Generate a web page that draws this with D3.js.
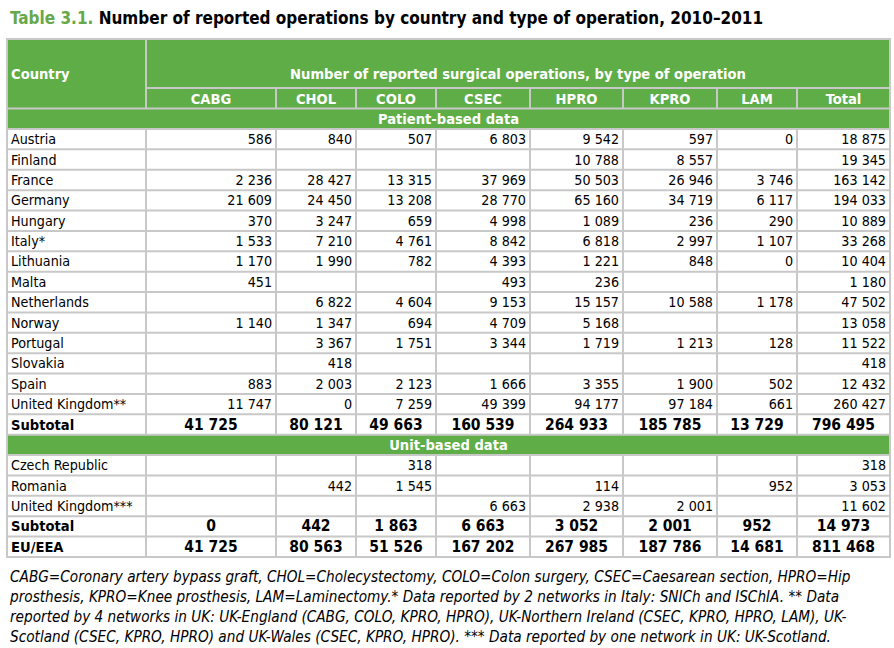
<!DOCTYPE html>
<html><head><meta charset="utf-8">
<script src="https://cdn.jsdelivr.net/npm/d3@7"></script>
<style>body{margin:0;background:#fff}svg{display:block}</style>
</head><body>
<script>
// ---------- DATA ----------
const titleNum = "Table 3.1.";
const titleText = " Number of reported operations by country and type of operation, 2010\u20132011";
const countryHeader = "Country";
const groupHeader = "Number of reported surgical operations, by type of operation";
const columns = ["CABG","CHOL","COLO","CSEC","HPRO","KPRO","LAM","Total"];

const patientSection = "Patient-based data";
const patientCountries = ["Austria","Finland","France","Germany","Hungary","Italy*","Lithuania","Malta","Netherlands","Norway","Portugal","Slovakia","Spain","United Kingdom**"];
const patientValues = [
  [586, 840, 507, 6803, 9542, 597, 0, 18875],
  [null, null, null, null, 10788, 8557, null, 19345],
  [2236, 28427, 13315, 37969, 50503, 26946, 3746, 163142],
  [21609, 24450, 13208, 28770, 65160, 34719, 6117, 194033],
  [370, 3247, 659, 4998, 1089, 236, 290, 10889],
  [1533, 7210, 4761, 8842, 6818, 2997, 1107, 33268],
  [1170, 1990, 782, 4393, 1221, 848, 0, 10404],
  [451, null, null, 493, 236, null, null, 1180],
  [null, 6822, 4604, 9153, 15157, 10588, 1178, 47502],
  [1140, 1347, 694, 4709, 5168, null, null, 13058],
  [null, 3367, 1751, 3344, 1719, 1213, 128, 11522],
  [null, 418, null, null, null, null, null, 418],
  [883, 2003, 2123, 1666, 3355, 1900, 502, 12432],
  [11747, 0, 7259, 49399, 94177, 97184, 661, 260427]
];
const patientSubtotal = [41725, 80121, 49663, 160539, 264933, 185785, 13729, 796495];

const unitSection = "Unit-based data";
const unitCountries = ["Czech Republic","Romania","United Kingdom***"];
const unitValues = [
  [null, null, 318, null, null, null, null, 318],
  [null, 442, 1545, null, 114, null, 952, 3053],
  [null, null, null, 6663, 2938, 2001, null, 11602]
];
const unitSubtotal = [0, 442, 1863, 6663, 3052, 2001, 952, 14973];
const euLabel = "EU/EEA";
const euTotal = [41725, 80563, 51526, 167202, 267985, 187786, 14681, 811468];
const subtotalLabel = "Subtotal";

const footnoteLines = [
  "CABG=Coronary artery bypass graft, CHOL=Cholecystectomy, COLO=Colon surgery, CSEC=Caesarean section, HPRO=Hip",
  "prosthesis, KPRO=Knee prosthesis, LAM=Laminectomy.* Data reported by 2 networks in Italy: SNICh and ISChIA. ** Data",
  "reported by 4 networks in UK: UK-England (CABG, COLO, KPRO, HPRO), UK-Northern Ireland (CSEC, KPRO, HPRO, LAM), UK-",
  "Scotland (CSEC, KPRO, HPRO) and UK-Wales (CSEC, KPRO, HPRO). *** Data reported by one network in UK: UK-Scotland."
];

// ---------- LAYOUT ----------
const W = 894, H = 648;
const FONT = "'DejaVu Sans Condensed','DejaVu Sans',sans-serif";
const GREEN = "#5fad46", GRID = "#c8c8c8", TITLEGREEN = "#66a84a";
const colEdges = [7, 146, 276, 356, 436, 530, 623, 717, 797, 890];
const tableTop = 39, groupLineY = 88, headBottom = 108.6, tableBottom = 557;

const fmt = d3.formatLocale({decimal: ".", thousands: " ", grouping: [3], currency: ["", ""]}).format(",");

// build row list
const rows = [];
rows.push({type: "section", label: patientSection});
patientCountries.forEach((c, i) => rows.push({type: "data", label: c, values: patientValues[i]}));
rows.push({type: "total", label: subtotalLabel, values: patientSubtotal});
rows.push({type: "section", label: unitSection});
unitCountries.forEach((c, i) => rows.push({type: "data", label: c, values: unitValues[i]}));
rows.push({type: "total", label: subtotalLabel, values: unitSubtotal});
rows.push({type: "total", label: euLabel, values: euTotal});

const y = d3.scaleLinear().domain([0, rows.length]).range([headBottom, tableBottom]);
const x = d3.scaleOrdinal().domain(d3.range(colEdges.length)).range(colEdges);

const svg = d3.select("body").append("svg").attr("width", W).attr("height", H)
  .style("font-family", FONT);

// title
const title = svg.append("text").attr("x", 10).attr("y", 24)
  .style("font-size", "17px").style("font-weight", "bold");
title.append("tspan").attr("fill", TITLEGREEN).text(titleNum);
title.append("tspan").attr("fill", "#000").text(titleText);

// table background
svg.append("rect").attr("x", colEdges[0]).attr("y", tableTop)
  .attr("width", colEdges[9] - colEdges[0]).attr("height", headBottom - tableTop).attr("fill", GREEN);
rows.forEach((r, i) => {
  if (r.type === "section") {
    svg.append("rect").attr("x", colEdges[0]).attr("y", y(i))
      .attr("width", colEdges[9] - colEdges[0]).attr("height", y(i + 1) - y(i)).attr("fill", GREEN);
  }
});

// grid lines
const g = svg.append("g").attr("stroke", GRID).attr("stroke-width", 2).attr("fill", "none");
g.append("line").attr("x1", colEdges[1]).attr("x2", colEdges[9]).attr("y1", groupLineY).attr("y2", groupLineY);
g.append("line").attr("x1", colEdges[1]).attr("x2", colEdges[1]).attr("y1", tableTop).attr("y2", headBottom);
for (let c = 2; c < 9; c++) {
  g.append("line").attr("x1", colEdges[c]).attr("x2", colEdges[c]).attr("y1", groupLineY).attr("y2", headBottom);
}
for (let i = 0; i <= rows.length; i++) {
  g.append("line").attr("x1", colEdges[0]).attr("x2", colEdges[9]).attr("y1", y(i)).attr("y2", y(i));
}
rows.forEach((r, i) => {
  if (r.type !== "section") {
    for (let c = 1; c < 9; c++) {
      g.append("line").attr("x1", colEdges[c]).attr("x2", colEdges[c]).attr("y1", y(i)).attr("y2", y(i + 1));
    }
  }
});
g.append("rect").attr("x", colEdges[0]).attr("y", tableTop)
  .attr("width", colEdges[9] - colEdges[0]).attr("height", tableBottom - tableTop);

// header text
svg.append("text").attr("x", 11).attr("y", 79).attr("fill", "#fff")
  .style("font-size", "14.6px").style("font-weight", "bold").text(countryHeader);
svg.append("text").attr("x", (colEdges[1] + colEdges[9]) / 2).attr("y", 79).attr("fill", "#fff")
  .attr("text-anchor", "middle").style("font-size", "14.6px").style("font-weight", "bold").text(groupHeader);
svg.selectAll("text.colh").data(columns).join("text").attr("class", "colh")
  .attr("x", (d, i) => (x(i + 1) + x(i + 2)) / 2).attr("y", 103.5)
  .attr("text-anchor", "middle").attr("fill", "#fff")
  .style("font-size", "14.6px").style("font-weight", "bold").text(d => d);

// rows
rows.forEach((r, i) => {
  const cy = (y(i) + y(i + 1)) / 2 + 5;
  if (r.type === "section") {
    svg.append("text").attr("x", (colEdges[0] + colEdges[9]) / 2).attr("y", cy)
      .attr("text-anchor", "middle").attr("fill", "#fff")
      .style("font-size", "14.6px").style("font-weight", "bold").text(r.label);
    return;
  }
  const bold = r.type === "total";
  svg.append("text").attr("x", 11).attr("y", cy).attr("fill", "#000")
    .style("font-size", bold ? "14.6px" : "14.2px").style("font-weight", bold ? "bold" : "normal").text(r.label);
  r.values.forEach((v, c) => {
    if (v === null) return;
    const t = svg.append("text").attr("y", cy).attr("fill", "#000")
      .style("font-size", bold ? "15.5px" : "14.2px").style("font-weight", bold ? "bold" : "normal").text(fmt(v));
    if (bold) t.attr("x", (x(c + 1) + x(c + 2)) / 2).attr("text-anchor", "middle");
    else t.attr("x", x(c + 2) - 4).attr("text-anchor", "end");
  });
});

// footnotes
svg.selectAll("text.fn").data(footnoteLines).join("text").attr("class", "fn")
  .attr("x", 10).attr("y", (d, i) => 582 + i * 20)
  .attr("textLength", null)
  .style("font-size", "15.2px").style("font-style", "italic").attr("fill", "#000").text(d => d);
</script>
</body></html>
